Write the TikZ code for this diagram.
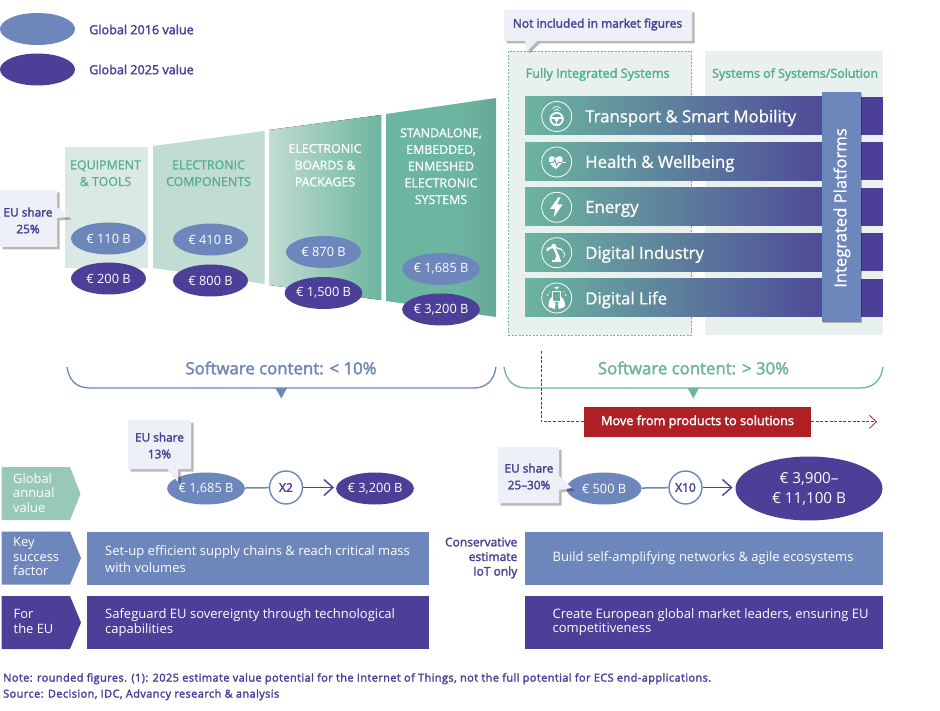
\documentclass[tikz,border=0pt]{standalone}
\usepackage{fontspec}
\setmainfont{Open Sans}
\newfontfamily\semif[FakeBold=2.2]{Open Sans}
\newfontfamily\medf[FakeBold=1]{Open Sans}
\newfontfamily\notef[FakeBold=2.2,LetterSpace=3.6]{Open Sans}
\usetikzlibrary{arrows.meta,shadows,shapes.geometric,calc}
\definecolor{cgreen}{HTML}{6CB5A0}
\definecolor{cgreenb}{HTML}{66A896}
\definecolor{cmint}{HTML}{C1DCD2}
\definecolor{cpale}{HTML}{DBE9E4}
\definecolor{cpanel}{HTML}{E8F1EE}
\definecolor{cblue}{HTML}{6D86BC}
\definecolor{cpurple}{HTML}{4B3F98}
\definecolor{cred}{HTML}{B01F24}
\definecolor{ccall}{HTML}{EDF0F6}
\definecolor{ctext}{HTML}{54AD94}
\definecolor{crow}{HTML}{98C8B8}
\pgfdeclarehorizontalshading{tfour}{100bp}{color(0bp)=(cgreen); color(25bp)=(cgreen); color(58bp)=(cgreen); color(75bp)=(cgreenb); color(100bp)=(cgreenb)}
\tikzset{
  val16/.style={ellipse,fill=cblue,minimum width=75pt,minimum height=32pt,inner sep=0pt,text=white,font=\fontsize{12.8}{15}\selectfont},
  val25/.style={val16,fill=cpurple},
  callout/.style={fill=ccall,drop shadow={shadow xshift=2.5pt,shadow yshift=-2.5pt,fill=black,opacity=.28}},
  calltext/.style={text=cpurple,font=\fontsize{11.8}{16.7}\selectfont\semif,align=center,inner sep=0pt},
  legendtext/.style={text=cpurple,anchor=west,inner sep=0pt,font=\fontsize{12.6}{15}\selectfont\semif},
  cattext/.style={align=center,inner sep=0pt,font=\fontsize{12.4}{16.7}\selectfont\medf},
  bartext/.style={anchor=west,text=white,inner sep=0pt,font=\fontsize{16.8}{20}\selectfont\medf},
  paneltitle/.style={anchor=west,text=ctext,inner sep=0pt,font=\fontsize{12.5}{15}\selectfont\semif},
  softtext/.style={inner sep=0pt,font=\fontsize{16.8}{18}\selectfont\semif},
  rowtext/.style={anchor=north west,text=white,align=left,inner sep=0pt,font=\fontsize{12.9}{14.6}\selectfont},
  boxtext/.style={anchor=west,text=white,align=left,inner sep=0pt,font=\fontsize{13}{16.8}\selectfont},
  mult/.style={circle,draw=cblue,line width=1.4pt,fill=white,minimum size=33pt,inner sep=0pt,text=cpurple,font=\fontsize{12}{14}\selectfont\semif},
  flow/.style={draw=cblue,line width=1.5pt},
  flowarr/.style={draw=cpurple,line width=1.4pt,-{Straight Barb[length=9pt,width=16pt,line width=1.4pt]}},
  iconring/.style={circle,draw=white,line width=.8pt,minimum size=30pt,inner sep=0pt},
  icon/.style={fill=white,draw=none},
  iconl/.style={draw=white,line width=.8pt,fill=none},
  bracel/.style={line width=1.3pt,fill=none},
  reddash/.style={draw=cred,line width=.8pt,dash pattern=on 3pt off 1.6pt}
}
\begin{document}
\begin{tikzpicture}[x=1pt,y=-1pt]
\useasboundingbox (0,0) rectangle (940,711);
% legend
\node[val16] (l16) at (37.5,29) {};
\node[val25] (l25) at (37.5,69.5) {};
\node[legendtext] (l16t) at (89,29.5) {Global 2016 value};
\node[legendtext] (l25t) at (89,69.5) {Global 2025 value};
% trapezoids
\fill[cpale] (65,147) -- (148,147) -- (148,268) -- (65,268) -- cycle;
\fill[cmint] (153,146) -- (264.5,131) -- (264.5,284) -- (153,268) -- cycle;
\fill[left color=cmint,right color=cgreen] (269,130) -- (381,115) -- (381,300) -- (269,285) -- cycle;
\shade[shading=tfour] (386,114) -- (496,98) -- (496,317) -- (386,301) -- cycle;
\node[cattext,text=ctext] (c1) at (105.5,173.2) {EQUIPMENT\\\& TOOLS};
\node[cattext,text=ctext] (c2) at (208.5,173.2) {ELECTRONIC\\COMPONENTS};
\node[cattext,text=white] (c3) at (325,165.2) {ELECTRONIC\\BOARDS \&\\PACKAGES};
\node[cattext,text=white] (c4) at (441,166.2) {STANDALONE,\\EMBEDDED,\\ENMESHED\\ELECTRONIC\\SYSTEMS};
\node[val16] (a1) at (108.5,238.5) {€ 110 B};
\node[val25] (b1) at (108.5,278.5) {€ 200 B};
\node[val16] (a2) at (210.5,239.5) {€ 410 B};
\node[val25] (b2) at (210.5,280.5) {€ 800 B};
\node[val16] (a3) at (323.5,252) {€ 870 B};
\node[val25] (b3) at (323.5,293) {€ 1,500 B};
\node[val16] (a4) at (441,269) {€ 1,685 B};
\node[val25] (b4) at (441,309.5) {€ 3,200 B};
% EU share 25
\path[callout] (0,190) -- (57,190) -- (57,207) -- (69,217) -- (57,218) -- (57,247) -- (0,247) -- cycle;
\node[calltext] (eu25) at (28,220.5) {EU share\\25\%};
% panels
\path[fill=cpanel,draw=cgreen,line width=.8pt,dash pattern=on 2pt off 1.5pt] (508.5,51.5) rectangle (691.5,335.5);
\fill[cpanel] (705,51.5) rectangle (883,335.5);
\path[callout] (504,10) -- (692,10) -- (692,41) -- (537,41) -- (527,51) -- (525,41) -- (504,41) -- cycle;
\node[calltext,font=\fontsize{12}{15}\selectfont\semif] (notinc) at (597.5,24.5) {Not included in market figures};
\node[paneltitle,font=\fontsize{12.7}{15}\selectfont\semif] (pt1) at (525.5,74.5) {Fully Integrated Systems};
\node[paneltitle,font=\fontsize{12.4}{15}\selectfont\semif] (pt2) at (712,74.5) {Systems of Systems/Solution};
% bars
\foreach \yy in {97,142.5,188,233.5,279}{
  \fill[cpurple] (850,\yy) rectangle (883,\yy+38);
  \fill[left color=cgreen,right color=cpurple] (525,\yy) rectangle (855,\yy+38);
}
\node[bartext] (t1) at (585,118) {Transport \& Smart Mobility};
\node[bartext] (t2) at (585,163.5) {Health \& Wellbeing};
\node[bartext] (t3) at (585,209) {Energy};
\node[bartext] (t4) at (585,254.5) {Digital Industry};
\node[bartext] (t5) at (585,300) {Digital Life};
% icons
\node[iconring] (i1) at (556.7,116.5) {};
\node[iconring] (i2) at (556.7,162) {};
\node[iconring] (i3) at (556.7,207.3) {};
\node[iconring] (i4) at (556.7,252.7) {};
\node[iconring] (i5) at (556.7,298) {};
% steering wheel
\begin{scope}[shift={(i1.center)}]
\draw[iconl,line width=1.7pt] (0,2.5) circle (6.2);
\draw[iconl,line width=1.5pt] (-5.5,1.5) -- (5.5,1.5);
\fill[icon] (0,3) circle (2);
\draw[iconl,line width=1.5pt] (0,3) -- (0,8);
\draw[iconl,line width=.7pt] (-2.5,-6) .. controls (-1,-7.5) and (1,-7.5) .. (2.5,-6);
\draw[iconl,line width=.7pt] (-4,-8) .. controls (-2,-10.5) and (2,-10.5) .. (4,-8);
\end{scope}
% heart
\begin{scope}[shift={(i2.center)}]
\fill[icon] (-1,7) .. controls (-5,4) and (-8,1) .. (-8,-2.5) .. controls (-8,-6.5) and (-3,-7) .. (-1,-3.5) .. controls (1,-7) and (6,-6.5) .. (6,-2.5) .. controls (6,1) and (3,4) .. (-1,7) -- cycle;
\draw[line width=.9pt,draw=cgreen!70!cblue] (-8,0.5) -- (-3.5,0.5) -- (-2,-2.5) -- (0,3.5) -- (1.5,0.5) -- (8,0.5);
\draw[iconl,line width=.9pt] (5,0.5) -- (9,0.5);
\end{scope}
% bolt
\begin{scope}[shift={(i3.center)}]
\fill[icon] (1.5,-10) -- (-6.5,1.5) -- (-1.5,1.5) -- (-3,10) -- (6,-3) -- (0.5,-3) -- (4,-10) -- cycle;
\end{scope}
% robot
\begin{scope}[shift={(i4.center)}]
\fill[icon] (-5,7.5) rectangle (4,9.5);
\fill[icon] (-2,7.5) -- (4,7.5) -- (2,2) -- (0,2) -- cycle;
\draw[iconl,line width=2.4pt] (1,3) -- (-3,-6);
\draw[iconl,line width=2pt] (-3,-6) -- (-9,-4);
\draw[iconl,line width=1.4pt] (-3,-6) -- (5,-3);
\fill[icon] (-3,-6.5) circle (2.4);
\fill[icon] (-9,-3) circle (1.6);
\draw[iconl,line width=.7pt] (5,-3) -- (8,1) -- (7,5);
\end{scope}
% phone and hands
\begin{scope}[shift={(i5.center)}]
\draw[iconl,line width=1pt] (-4,-6) rectangle (4,4);
\fill[icon] (-8,9) .. controls (-9,5) and (-7,1) .. (-5,-1) -- (-3,3) -- (-1,6) -- (-2,11) -- cycle;
\fill[icon] (8,9) .. controls (9,5) and (7,1) .. (5,-1) -- (3,3) -- (1,6) -- (2,11) -- cycle;
\fill[icon] (-2.5,-11) -- (2.5,-11) -- (0,-8.5) -- cycle;
\fill[icon] (-9,-3) circle (.9);
\fill[icon] (9,-3) circle (.9);
\fill[icon] (-7,-6) circle (.7);
\fill[icon] (7,-6) circle (.7);
\end{scope}
% integrated platforms
\path[fill=cblue,drop shadow={shadow xshift=1pt,shadow yshift=-1pt,fill=black,opacity=.25}] (821.5,92) rectangle (861,322);
\node[rotate=90,text=white,inner sep=0pt,font=\fontsize{16.6}{20}\selectfont\medf] (ip) at (842,208) {Integrated Platforms};
% braces
\coordinate (bl1) at (67,367); \coordinate (bl2) at (496,367);
\coordinate (br1) at (504,367); \coordinate (br2) at (883,367);
\draw[bracel,cblue] (bl1) .. controls (69,380) and (76,388) .. (90,388) -- (473,388) .. controls (487,388) and (494,380) .. (bl2);
\draw[bracel,cgreen] (br1) .. controls (506,380) and (513,388) .. (527,388) -- (860,388) .. controls (874,388) and (881,380) .. (br2);
\fill[cblue] (275.5,388) -- (287,388) -- (281.3,398.5) -- cycle;
\fill[cgreen] (687.5,388) -- (699,388) -- (693.3,398.5) -- cycle;
\node[softtext,text=cblue] (s1) at (281,368) {Software content: < 10\%};
\node[softtext,text=cgreen] (s2) at (693.5,368) {Software content: > 30\%};
% red
\node[fill=cred,text=white,minimum width=227pt,minimum height=29.5pt,inner sep=0pt,font=\fontsize{12.7}{14}\selectfont\semif] (mv) at (697.5,421.8) {Move from products to solutions};
\coordinate (rs) at (541,351);
\coordinate (re) at (877,421.8);
\draw[reddash] (rs) |- (mv.west);
\draw[reddash,-{Straight Barb[length=7pt,width=13pt,line width=.8pt]}] (mv.east) -- (re);
% left flow
\node[val16] (f1) at (206,488.5) {€ 1,685 B};
\node[val25] (f2) at (375,488.5) {€ 3,200 B};
\node[mult] (x2) at (286,487.5) {X2};
\coordinate (fa2) at (334,487.5);
\draw[flow] (f1) -- (x2);
\draw[flowarr] (x2) -- (fa2);
\path[callout] (128,420) -- (191,420) -- (191,469) -- (178,469) -- (178,482) -- (167,469) -- (128,469) -- cycle;
\node[calltext] (eu13) at (159.5,445.5) {EU share\\13\%};
% right flow
\node[val16] (f3) at (604,488.5) {€ 500 B};
\node[val25,minimum width=147pt,minimum height=64pt,font=\fontsize{15.2}{20}\selectfont,align=center] (f4) at (809,488.5) {€ 3,900–\\€ 11,100 B};
\node[mult] (x10) at (685.5,487.5) {X10};
\coordinate (fa10) at (732.5,487.5);
\draw[flow] (f3) -- (x10);
\draw[flowarr] (x10) -- (fa10);
\path[callout] (498,447) -- (559,447) -- (559,476) -- (572,488) -- (559,490) -- (559,503) -- (498,503) -- cycle;
\node[calltext] (eu2530) at (529,476.5) {EU share\\25–30\%};
% rows
\fill[crow] (1.5,467) -- (70,467) -- (80.5,494) -- (70,520) -- (1.5,520) -- cycle;
\fill[cblue] (1.5,531.5) -- (70,531.5) -- (81,558) -- (70,584.5) -- (1.5,584.5) -- cycle;
\fill[cpurple] (1.5,596) -- (70,596) -- (81,622.5) -- (70,649) -- (1.5,649) -- cycle;
\node[rowtext] (r1) at (13,473) {Global\\annual\\value};
\node[rowtext] (r2) at (13,537) {Key\\success\\factor};
\node[rowtext] (r3) at (13.5,609.5) {For\\the EU};
\fill[cblue] (86.5,531.5) rectangle (429,584.5);
\fill[cpurple] (86.5,596) rectangle (429,649);
\fill[cblue] (525,531.5) rectangle (883,584.5);
\fill[cpurple] (525,596) rectangle (883,649);
\node[boxtext] (k1) at (105,559) {Set-up efficient supply chains \& reach critical mass\\with volumes};
\node[boxtext,font=\fontsize{13}{14.2}\selectfont] (k2) at (105,622.5) {Safeguard EU sovereignty through technological\\capabilities};
\node[boxtext] (k3) at (552.5,558.5) {Build self-amplifying networks \& agile ecosystems};
\node[boxtext,font=\fontsize{13}{14.2}\selectfont] (k4) at (552.5,622.5) {Create European global market leaders, ensuring EU\\competitiveness};
\node[anchor=east,align=right,text=cpurple,inner sep=0pt,font=\fontsize{12}{14.6}\selectfont\semif] (cons) at (517.5,558) {Conservative\\estimate\\IoT only};
% notes
\node[anchor=north west,align=left,text=cpurple,inner sep=0pt,font=\fontsize{11}{16}\selectfont\notef] (note) at (3,673) {Note: rounded figures. (1): 2025 estimate value potential for the Internet of Things, not the full potential for ECS end-applications.\\Source: Decision, IDC, Advancy research \& analysis};
\end{tikzpicture}
\end{document}
